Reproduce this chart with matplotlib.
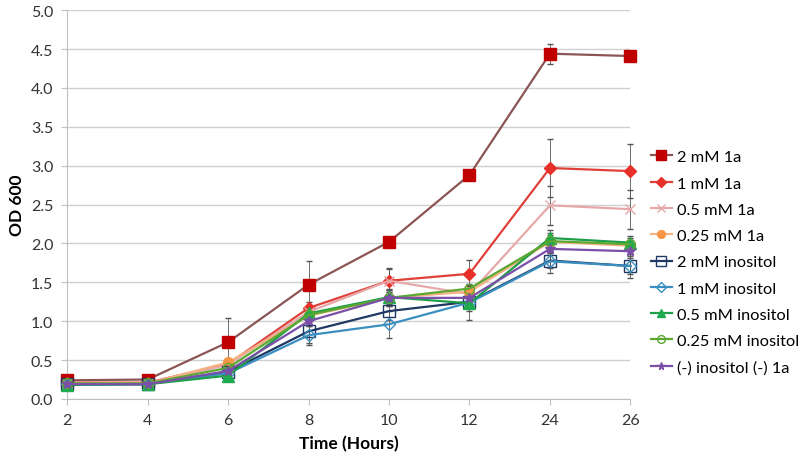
import matplotlib

matplotlib.use("Agg")
import matplotlib.pyplot as plt
from matplotlib.lines import Line2D
import numpy as np

plt.rcParams["font.family"] = ["Lato", "DejaVu Sans"]

# x is categorical in the original (Excel line chart)
hours = ["2", "4", "6", "8", "10", "12", "24", "26"]

labels = [
    "2 mM 1a",
    "1 mM 1a",
    "0.5 mM 1a",
    "0.25 mM 1a",
    "2 mM inositol",
    "1 mM inositol",
    "0.5 mM inositol",
    "0.25 mM inositol",
    "(-) inositol (-) 1a",
]

od_2mm_1a = [0.24, 0.25, 0.73, 1.47, 2.02, 2.88, 4.44, 4.41]
od_1mm_1a = [0.21, 0.21, 0.45, 1.17, 1.52, 1.61, 2.97, 2.93]
od_05mm_1a = [0.20, 0.20, 0.44, 1.12, 1.52, 1.35, 2.49, 2.44]
od_025mm_1a = [0.20, 0.20, 0.47, 1.07, 1.30, 1.38, 2.02, 1.97]
od_2mm_ino = [0.19, 0.19, 0.35, 0.87, 1.13, 1.25, 1.78, 1.71]
od_1mm_ino = [0.19, 0.19, 0.33, 0.82, 0.96, 1.24, 1.77, 1.71]
od_05mm_ino = [0.18, 0.19, 0.30, 1.10, 1.31, 1.23, 2.07, 2.01]
od_025mm_ino = [0.20, 0.20, 0.40, 1.08, 1.30, 1.42, 2.03, 1.99]
od_none = [0.19, 0.19, 0.36, 1.00, 1.30, 1.30, 1.93, 1.90]

err_2mm_1a = [0.02, 0.02, 0.31, 0.30, 0.03, 0.03, 0.13, 0.05]
err_1mm_1a = [0.01, 0.01, 0.05, 0.08, 0.17, 0.18, 0.37, 0.35]
err_05mm_1a = [0.01, 0.01, 0.04, 0.06, 0.15, 0.10, 0.25, 0.25]
err_025mm_1a = [0.01, 0.01, 0.03, 0.06, 0.10, 0.08, 0.12, 0.10]
err_2mm_ino = [0.01, 0.01, 0.03, 0.15, 0.12, 0.08, 0.10, 0.10]
err_1mm_ino = [0.01, 0.01, 0.03, 0.12, 0.17, 0.22, 0.15, 0.15]
err_05mm_ino = [0.01, 0.01, 0.03, 0.08, 0.10, 0.10, 0.10, 0.08]
err_025mm_ino = [0.01, 0.01, 0.03, 0.06, 0.10, 0.06, 0.08, 0.06]
err_none = [0.01, 0.01, 0.03, 0.06, 0.08, 0.06, 0.08, 0.06]

series = [od_2mm_1a, od_1mm_1a, od_05mm_1a, od_025mm_1a, od_2mm_ino,
          od_1mm_ino, od_05mm_ino, od_025mm_ino, od_none]
errors = [err_2mm_1a, err_1mm_1a, err_05mm_1a, err_025mm_1a, err_2mm_ino,
          err_1mm_ino, err_05mm_ino, err_025mm_ino, err_none]

# (line colour, marker colour, marker, filled, size)
styles = [
    ("#8c5555", "#c00000", "s", True, 9),
    ("#e0403a", "#e8302a", "D", True, 6),
    ("#e6a8a8", "#e6a8a8", "x", True, 7),
    ("#f4b183", "#f79646", "o", True, 7),
    ("#1f3864", "#1f3864", "s", False, 9),
    ("#3a8fc0", "#3a8fc0", "D", False, 6),
    ("#1f9e4a", "#1faa50", "^", True, 8),
    ("#5aa832", "#5aa832", "o", False, 7),
    ("#7a4fa8", "#7a4fa8", "*", True, 7),
]

x = np.arange(len(hours))

fig = plt.figure(figsize=(8, 4.64), dpi=100)
ax = fig.add_axes([0.084, 0.138, 0.704, 0.838])

handles = []
for vals, errs, label, (lc, mc, mk, filled, ms) in zip(series, errors, labels, styles):
    fc = mc if filled else "none"
    line, caps, bars = ax.errorbar(
        x, vals, yerr=errs,
        color=lc, linewidth=1.6,
        marker=mk, markersize=ms,
        markerfacecolor=fc, markeredgecolor=mc, markeredgewidth=1.0,
        ecolor="#555555", elinewidth=0.6, capsize=2.5, capthick=0.6,
        zorder=3,
    )
    # let the markers at 26 h spill past the plot edge, as in the original
    line.set_clip_on(False)
    for c in caps:
        c.set_clip_on(False)
    for b in bars:
        b.set_clip_on(False)
    handles.append(Line2D([], [], color=lc, linewidth=1.6, marker=mk,
                          markersize=ms * 0.8, markerfacecolor=fc,
                          markeredgecolor=mc, label=label))

ax.set_xlim(0, len(hours) - 1)
ax.set_ylim(0, 5.0)
ax.set_xticks(x, labels=hours)
ax.set_yticks(np.arange(0, 5.01, 0.5))
ax.yaxis.set_major_formatter(matplotlib.ticker.FormatStrFormatter("%.1f"))
ax.tick_params(axis="both", labelsize=11.5, colors="#333333", length=4)
ax.tick_params(axis="x", direction="out", color="#bfbfbf", pad=6)
ax.tick_params(axis="y", color="#bfbfbf", pad=6)
ax.yaxis.grid(True, color="#d0d0d0", linewidth=1.0)
ax.set_axisbelow(True)
for side in ("top", "right"):
    ax.spines[side].set_visible(False)
for side in ("left", "bottom"):
    ax.spines[side].set_color("#bfbfbf")

ax.set_xlabel("Time (Hours)", fontsize=12.5, fontweight="bold", labelpad=6)
ax.set_ylabel("OD 600", fontsize=12.5, fontweight="bold", labelpad=4)

fig.legend(
    handles=handles, loc="center left", bbox_to_anchor=(0.805, 0.433),
    frameon=False, fontsize=11.8, handlelength=1.3, handletextpad=0.3,
    labelspacing=0.72, borderaxespad=0.0,
)

fig.savefig("out.png", dpi=100)
